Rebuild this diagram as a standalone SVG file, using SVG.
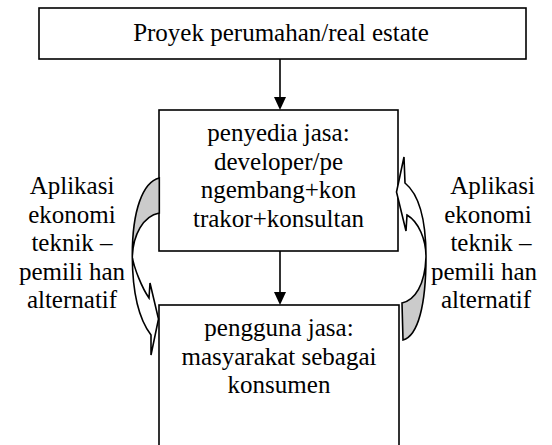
<svg xmlns="http://www.w3.org/2000/svg" width="552" height="445" viewBox="0 0 552 445">
<defs>
<style>
.box{fill:#fff;stroke:#000;stroke-width:1.6}
.t{font-family:'Times New Roman','Liberation Serif',serif;font-size:25px;fill:#000;text-anchor:middle}
.ln{stroke:#000;stroke-width:1.6;fill:none}
.head{fill:#000;stroke:none}
.back{fill:#cbcbcb;stroke:#000;stroke-width:1.6;stroke-linejoin:miter}
.front{fill:#fff;stroke:#000;stroke-width:1.6;stroke-linejoin:miter}
</style>
</defs>
<rect width="552" height="445" fill="#fff"/>
<g id="node-proyek">
<rect class="box" x="39" y="8" width="487" height="51"/>
<text class="t" x="281" y="41">Proyek perumahan/real estate</text>
</g>
<g id="node-penyedia">
<rect class="box" x="159" y="110" width="239" height="141"/>
<text class="t" x="278.5" y="141">penyedia jasa:</text>
<text class="t" x="278.5" y="169.7">developer/pe</text>
<text class="t" x="278.5" y="198.4">ngembang+kon</text>
<text class="t" x="278.5" y="227.1">trakor+konsultan</text>
</g>
<g id="node-pengguna">
<rect class="box" x="159" y="305" width="240" height="170"/>
<text class="t" x="279" y="336">pengguna jasa:</text>
<text class="t" x="279" y="364.7">masyarakat sebagai</text>
<text class="t" x="279" y="393.4">konsumen</text>
</g>
<g id="label-left">
<text class="t" x="72" y="194">Aplikasi</text>
<text class="t" x="72" y="222.5">ekonomi</text>
<text class="t" x="72" y="251">teknik –</text>
<text class="t" x="72" y="279.5">pemili han</text>
<text class="t" x="72" y="308">alternatif</text>
</g>
<g id="label-right">
<text class="t" x="492.5" y="194">Aplikasi</text>
<text class="t" x="488" y="222.5">ekonomi</text>
<text class="t" x="491" y="251">teknik –</text>
<text class="t" x="484" y="279.5">pemili han</text>
<text class="t" x="486" y="308">alternatif</text>
</g>
<g id="connectors">
<line class="ln" x1="280" y1="59" x2="280" y2="98"/>
<polygon class="head" points="274,97 286,97 280,110"/>
<line class="ln" x1="280" y1="251" x2="280" y2="293"/>
<polygon class="head" points="274,292 286,292 280,305"/>
<g id="curved-left">
<path class="back" d="M159.3,178 C143,182 132,210 132.3,257 C133,235 143,216 159.3,213 Z"/>
<path class="front" d="M132.3,257 C132.5,290 138,318 151,335 L151,355 L158.5,319 L150,283 L149,298 C142,288 134,268 132.3,257 Z"/>
</g>
<g id="curved-right">
<path class="back" d="M403,340 C418,336 426,305 426,257 C425,285 415,300 402,303 Z"/>
<path class="front" d="M426,257 C426,224 421,196 405,183 L404,157 L396.5,192 L406,231 L407,215 C419,222 426,240 426,257 Z"/>
</g>
</g>
</svg>
